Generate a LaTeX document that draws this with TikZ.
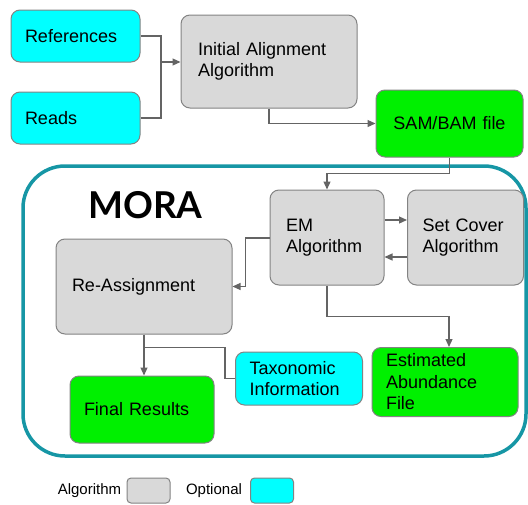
\documentclass[tikz,border=0pt]{standalone}
\usepackage{fontspec}
\setmainfont{Liberation Sans}
\newfontfamily\titlefont{Lato}
\usetikzlibrary{arrows.meta,calc}
\definecolor{algogray}{RGB}{217,217,217}
\definecolor{optcyan}{RGB}{0,255,255}
\definecolor{filegreen}{RGB}{0,240,0}
\definecolor{moraframe}{RGB}{22,150,165}
\definecolor{linegray}{RGB}{100,100,100}
\begin{document}
\begin{tikzpicture}[x=1pt,y=-1pt,>={Triangle[width=7pt,length=8pt]},
	box/.style={draw=linegray!80,line width=1pt,rounded corners=9pt,align=left,
		inner xsep=14pt,inner ysep=0pt,font=\fontsize{18}{21.5}\selectfont},
	algo/.style={box,fill=algogray},
	opt/.style={box,fill=optcyan},
	result/.style={box,fill=filegreen},
	wire/.style={draw=linegray,line width=1.2pt},
	key/.style={draw=linegray!80,line width=1pt,rounded corners=4pt,minimum width=43pt,minimum height=25pt}]
	\useasboundingbox (0,0) rectangle (528,504);
	% MORA frame
	\draw[moraframe,line width=3.5pt,rounded corners=42pt] (23,166) rectangle (526,456);
	\node[font=\titlefont\bfseries\fontsize{37}{40}\selectfont] (title) at (145.5,205) {MORA};
	% inputs
	\node[opt,text width=101pt,minimum height=52pt] (refs) at (75.5,36) {References};
	\node[opt,text width=101pt,minimum height=52pt] (reads) at (75.5,118) {Reads};
	\node[algo,inner xsep=17pt,text width=142pt,minimum height=93pt] (init) at (269,61.5) {Initial Alignment\\Algorithm};
	\node[result,align=center,text width=119pt,minimum height=67pt] (sam) at (449.5,123.5) {SAM/BAM file};
	% inside MORA
	\node[algo,inner xsep=16pt,text width=82pt,minimum height=95pt] (em) at (327,237.5) {EM\\Algorithm};
	\node[algo,inner xsep=15pt,text width=86pt,minimum height=95pt] (setcover) at (465.5,237.5) {Set Cover\\Algorithm};
	\node[algo,inner xsep=16pt,text width=144pt,minimum height=95pt] (reassign) at (144,286.5) {Re-Assignment};
	\node[result,text width=116pt,minimum height=67pt] (final) at (142,409.5) {Final Results};
	\node[opt,text width=99pt,minimum height=53pt] (taxo) at (299,378.5) {Taxonomic\\Information};
	\node[result,text width=118pt,minimum height=69pt] (abund) at (445,382) {Estimated\\Abundance\\File};
	% legend
	\node[font=\fontsize{15}{18}\selectfont] (algolab) at (89.5,491) {Algorithm};
	\node[key,fill=algogray] (algokey) at (148.5,490.5) {};
	\node[font=\fontsize{15}{18}\selectfont] (optlab) at (214,491) {Optional};
	\node[key,fill=optcyan] (optkey) at (272,490.5) {};
	% connectors
	\coordinate (join) at (161,62);
	\draw[wire] (refs.east) -| (join);
	\draw[wire] (reads.east) -| (join);
	\draw[wire,->] (join) -- (init.west |- join);
	\draw[wire,->] (init.south) |- (sam.west);
	\draw[wire,->] (sam.south) -- ++(0,16) -| (em.north);
	\draw[wire,->] (em.east |- 0,220) -- (setcover.west |- 0,220);
	\draw[wire,->] (setcover.west |- 0,257) -- (em.east |- 0,257);
	\draw[wire,->] (em.west |- 0,238) -| ($(reassign.east)+(13,0)$) -- (reassign.east);
	\draw[wire,->] (reassign.south) -- (reassign.south |- final.north);
	\coordinate (split) at ($(reassign.south)+(0,13)$);
	\draw[wire] (split) -| ($(taxo.west)+(-10,0)$) -- (taxo.west);
	\draw[wire,->] (em.south) -- ++(0,31) -| ([xshift=4pt]abund.north);
\end{tikzpicture}
\end{document}
